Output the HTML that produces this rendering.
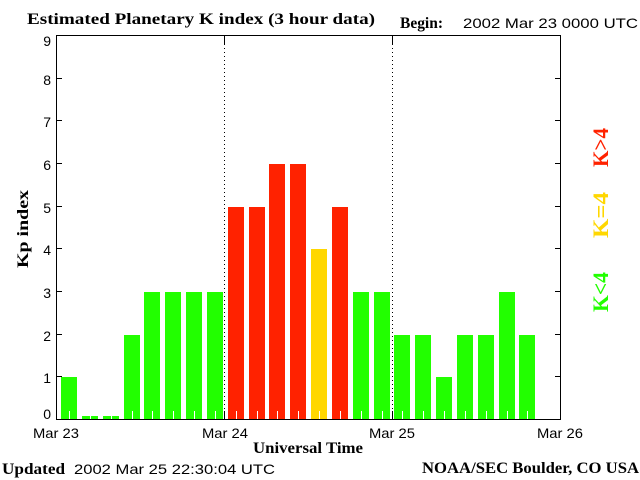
<!DOCTYPE html>
<html>
<head>
<meta charset="utf-8">
<style>
  html,body{margin:0;padding:0;background:#ffffff;}
  svg{display:block;}
</style>
</head>
<body>
<svg xmlns="http://www.w3.org/2000/svg" width="640" height="480" viewBox="0 0 640 480">
  <rect x="0" y="0" width="640" height="480" fill="#ffffff"/>

  <!-- Title -->
  <text x="27" y="24" font-family="Liberation Serif, serif" font-weight="bold" font-size="16" textLength="348" lengthAdjust="spacingAndGlyphs" fill="#000">Estimated Planetary K index (3 hour data)</text>
  <text x="400" y="28" font-family="Liberation Serif, serif" font-weight="bold" font-size="16" textLength="43" lengthAdjust="spacingAndGlyphs" fill="#000">Begin:</text>
  <text x="463" y="28" font-family="Liberation Sans, sans-serif" font-size="14" textLength="175" lengthAdjust="spacingAndGlyphs" fill="#000">2002 Mar 23 0000 UTC</text>

  <!-- Bars -->
  <g shape-rendering="crispEdges">
    <!-- Mar 23 -->
    <rect x="61" y="377" width="16" height="42" fill="#22ff00"/>
    <rect x="82" y="416" width="16" height="3" fill="#22ff00"/>
    <rect x="103" y="416" width="16" height="3" fill="#22ff00"/>
    <rect x="124" y="335" width="16" height="84" fill="#22ff00"/>
    <rect x="144" y="292" width="16" height="127" fill="#22ff00"/>
    <rect x="165" y="292" width="16" height="127" fill="#22ff00"/>
    <rect x="186" y="292" width="16" height="127" fill="#22ff00"/>
    <rect x="207" y="292" width="16" height="127" fill="#22ff00"/>
    <!-- Mar 24 -->
    <rect x="228" y="207" width="16" height="212" fill="#ff2200"/>
    <rect x="249" y="207" width="16" height="212" fill="#ff2200"/>
    <rect x="269" y="164" width="16" height="255" fill="#ff2200"/>
    <rect x="290" y="164" width="16" height="255" fill="#ff2200"/>
    <rect x="311" y="249" width="16" height="170" fill="#ffd700"/>
    <rect x="332" y="207" width="16" height="212" fill="#ff2200"/>
    <rect x="353" y="292" width="16" height="127" fill="#22ff00"/>
    <rect x="374" y="292" width="16" height="127" fill="#22ff00"/>
    <!-- Mar 25 -->
    <rect x="394" y="335" width="16" height="84" fill="#22ff00"/>
    <rect x="415" y="335" width="16" height="84" fill="#22ff00"/>
    <rect x="436" y="377" width="16" height="42" fill="#22ff00"/>
    <rect x="457" y="335" width="16" height="84" fill="#22ff00"/>
    <rect x="478" y="335" width="16" height="84" fill="#22ff00"/>
    <rect x="499" y="292" width="16" height="127" fill="#22ff00"/>
    <rect x="519" y="335" width="16" height="84" fill="#22ff00"/>
  </g>

  <!-- white center marks inside bars -->
  <g stroke="#ffffff" stroke-width="1" shape-rendering="crispEdges">
    <line x1="69.5" y1="411" x2="69.5" y2="419"/>
    <line x1="90.5" y1="411" x2="90.5" y2="419"/>
    <line x1="111.5" y1="411" x2="111.5" y2="419"/>
    <line x1="132.5" y1="411" x2="132.5" y2="419"/>
    <line x1="152.5" y1="411" x2="152.5" y2="419"/>
    <line x1="173.5" y1="411" x2="173.5" y2="419"/>
    <line x1="194.5" y1="411" x2="194.5" y2="419"/>
    <line x1="215.5" y1="411" x2="215.5" y2="419"/>
    <line x1="236.5" y1="411" x2="236.5" y2="419"/>
    <line x1="257.5" y1="411" x2="257.5" y2="419"/>
    <line x1="277.5" y1="411" x2="277.5" y2="419"/>
    <line x1="298.5" y1="411" x2="298.5" y2="419"/>
    <line x1="319.5" y1="411" x2="319.5" y2="419"/>
    <line x1="340.5" y1="411" x2="340.5" y2="419"/>
    <line x1="361.5" y1="411" x2="361.5" y2="419"/>
    <line x1="382.5" y1="411" x2="382.5" y2="419"/>
    <line x1="402.5" y1="411" x2="402.5" y2="419"/>
    <line x1="423.5" y1="411" x2="423.5" y2="419"/>
    <line x1="444.5" y1="411" x2="444.5" y2="419"/>
    <line x1="465.5" y1="411" x2="465.5" y2="419"/>
    <line x1="486.5" y1="411" x2="486.5" y2="419"/>
    <line x1="507.5" y1="411" x2="507.5" y2="419"/>
    <line x1="527.5" y1="411" x2="527.5" y2="419"/>
  </g>

  <!-- Day separators (dotted) and day ticks -->
  <g stroke="#000" stroke-width="1" shape-rendering="crispEdges">
    <line x1="224.5" y1="44" x2="224.5" y2="411" stroke-dasharray="1 3"/>
    <line x1="392.5" y1="44" x2="392.5" y2="411" stroke-dasharray="1 3"/>
    <line x1="224.5" y1="35" x2="224.5" y2="44"/>
    <line x1="224.5" y1="411" x2="224.5" y2="420"/>
    <line x1="392.5" y1="35" x2="392.5" y2="44"/>
    <line x1="392.5" y1="411" x2="392.5" y2="420"/>
  </g>

  <!-- Axes frame -->
  <rect x="56.5" y="35.5" width="504" height="384" fill="none" stroke="#000" stroke-width="1" shape-rendering="crispEdges"/>

  <!-- Y ticks (inward, both sides) -->
  <g stroke="#000" stroke-width="1" shape-rendering="crispEdges">
    <line x1="56" y1="376.5" x2="62" y2="376.5"/>
    <line x1="56" y1="334.5" x2="62" y2="334.5"/>
    <line x1="56" y1="291.5" x2="62" y2="291.5"/>
    <line x1="56" y1="248.5" x2="62" y2="248.5"/>
    <line x1="56" y1="206.5" x2="62" y2="206.5"/>
    <line x1="56" y1="163.5" x2="62" y2="163.5"/>
    <line x1="56" y1="120.5" x2="62" y2="120.5"/>
    <line x1="56" y1="78.5" x2="62" y2="78.5"/>
    <line x1="555" y1="376.5" x2="561" y2="376.5"/>
    <line x1="555" y1="334.5" x2="561" y2="334.5"/>
    <line x1="555" y1="291.5" x2="561" y2="291.5"/>
    <line x1="555" y1="248.5" x2="561" y2="248.5"/>
    <line x1="555" y1="206.5" x2="561" y2="206.5"/>
    <line x1="555" y1="163.5" x2="561" y2="163.5"/>
    <line x1="555" y1="120.5" x2="561" y2="120.5"/>
    <line x1="555" y1="78.5" x2="561" y2="78.5"/>
  </g>

  <!-- Y tick labels -->
  <g font-family="Liberation Sans, sans-serif" font-size="14" fill="#000" text-anchor="end">
    <text x="51" y="419">0</text>
    <text x="51" y="383">1</text>
    <text x="51" y="341">2</text>
    <text x="51" y="298">3</text>
    <text x="51" y="255">4</text>
    <text x="51" y="213">5</text>
    <text x="51" y="170">6</text>
    <text x="51" y="127">7</text>
    <text x="51" y="85">8</text>
    <text x="51" y="46">9</text>
  </g>

  <!-- Y axis title -->
  <text transform="translate(28,268) rotate(-90)" x="0" y="0" font-family="Liberation Serif, serif" font-weight="bold" font-size="16" textLength="78" lengthAdjust="spacingAndGlyphs" fill="#000">Kp index</text>

  <!-- X tick labels -->
  <g font-family="Liberation Sans, sans-serif" font-size="14" fill="#000">
    <text x="33" y="438" textLength="46" lengthAdjust="spacingAndGlyphs">Mar 23</text>
    <text x="202" y="438" textLength="46" lengthAdjust="spacingAndGlyphs">Mar 24</text>
    <text x="369" y="438" textLength="46" lengthAdjust="spacingAndGlyphs">Mar 25</text>
    <text x="537" y="438" textLength="46" lengthAdjust="spacingAndGlyphs">Mar 26</text>
  </g>

  <!-- X axis title -->
  <text x="253" y="453" font-family="Liberation Serif, serif" font-weight="bold" font-size="16" textLength="110" lengthAdjust="spacingAndGlyphs" fill="#000">Universal Time</text>

  <!-- Legend on right (rotated) -->
  <g font-family="Liberation Serif, serif" font-size="22" font-weight="bold">
    <text transform="translate(608,167) rotate(-90)" x="0" y="0" fill="#ff2200" textLength="39" lengthAdjust="spacingAndGlyphs">K&gt;4</text>
    <text transform="translate(608,238) rotate(-90)" x="0" y="0" fill="#ffd700" textLength="46" lengthAdjust="spacingAndGlyphs">K=4</text>
    <text transform="translate(608,312) rotate(-90)" x="0" y="0" fill="#22ff00" textLength="40" lengthAdjust="spacingAndGlyphs">K&lt;4</text>
  </g>

  <!-- Footer -->
  <text x="2" y="474" font-family="Liberation Serif, serif" font-weight="bold" font-size="16" textLength="63" lengthAdjust="spacingAndGlyphs" fill="#000">Updated</text>
  <text x="74" y="474" font-family="Liberation Sans, sans-serif" font-size="14" textLength="201" lengthAdjust="spacingAndGlyphs" fill="#000">2002 Mar 25 22:30:04 UTC</text>
  <text x="422" y="473" font-family="Liberation Serif, serif" font-weight="bold" font-size="16" textLength="217" lengthAdjust="spacingAndGlyphs" fill="#000">NOAA/SEC Boulder, CO USA</text>
</svg>
</body>
</html>
